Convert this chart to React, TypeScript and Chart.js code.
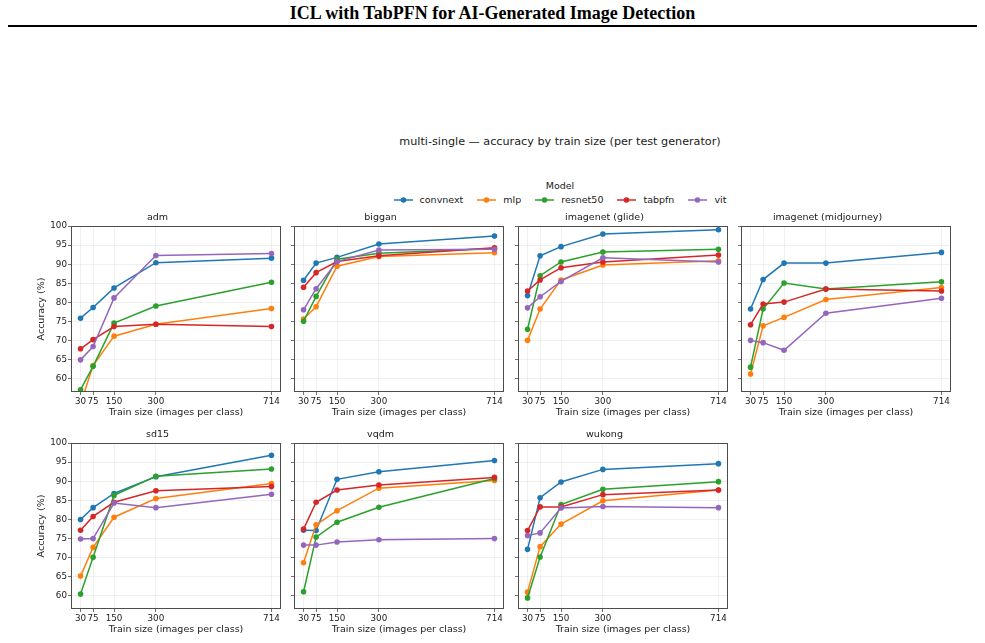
import React, { useEffect, useRef } from "react";
import { Chart, registerables } from "chart.js";

Chart.register(...registerables);

// ---- data -------------------------------------------------------------
const trainSizes = [30, 75, 150, 300, 714];
const models = ["convnext", "mlp", "resnet50", "tabpfn", "vit"];
const modelColors = ["#1f77b4", "#ff7f0e", "#2ca02c", "#d62728", "#9467bd"];
const yTicks = [60, 65, 70, 75, 80, 85, 90, 95, 100];

// accuracy (%) per model (rows in `models` order), columns follow `trainSizes`
const admAcc = [
  [75.9, 78.7, 83.8, 90.4, 91.6],
  [53.5, 63.5, 71.2, 74.3, 78.4],
  [57.2, 63.3, 74.6, 79.1, 85.3],
  [67.9, 70.3, 73.7, 74.3, 73.7],
  [65.0, 68.5, 81.2, 92.3, 92.8],
];
const bigganAcc = [
  [85.8, 90.3, 91.8, 95.3, 97.4],
  [75.7, 78.9, 89.5, 92.0, 93.0],
  [75.1, 81.6, 91.3, 92.9, 94.1],
  [84.0, 87.8, 90.7, 92.2, 94.3],
  [78.1, 83.6, 90.7, 93.7, 93.9],
];
const glideAcc = [
  [81.8, 92.2, 94.6, 97.9, 99.0],
  [70.1, 78.3, 85.9, 89.8, 90.9],
  [73.0, 87.0, 90.6, 93.2, 93.9],
  [83.0, 85.9, 89.1, 90.6, 92.4],
  [78.6, 81.5, 85.5, 91.7, 90.6],
];
const midjourneyAcc = [
  [78.3, 86.0, 90.3, 90.3, 93.1],
  [61.3, 73.9, 76.1, 80.8, 83.9],
  [63.1, 78.3, 85.1, 83.5, 85.4],
  [74.2, 79.6, 80.1, 83.5, 83.0],
  [70.1, 69.5, 67.5, 77.2, 81.1],
];
const sd15Acc = [
  [80.0, 83.1, 86.8, 91.2, 96.8],
  [65.2, 72.7, 80.6, 85.5, 89.4],
  [60.5, 70.1, 86.3, 91.3, 93.2],
  [77.2, 80.8, 84.5, 87.5, 88.6],
  [74.9, 75.0, 84.3, 83.1, 86.6],
];
const vqdmAcc = [
  [77.2, 77.1, 90.5, 92.5, 95.4],
  [68.7, 78.6, 82.3, 88.2, 90.2],
  [61.1, 75.4, 79.3, 83.2, 90.7],
  [77.5, 84.5, 87.7, 89.0, 91.0],
  [73.3, 73.3, 74.1, 74.7, 75.0],
];
const wukongAcc = [
  [72.2, 85.7, 89.8, 93.1, 94.6],
  [61.0, 72.9, 78.8, 84.9, 87.7],
  [59.5, 70.2, 83.9, 87.9, 89.9],
  [77.1, 83.3, 83.3, 86.5, 87.7],
  [75.8, 76.5, 83.0, 83.4, 83.1],
];

const generators = [
  "adm",
  "biggan",
  "imagenet (glide)",
  "imagenet (midjourney)",
  "sd15",
  "vqdm",
  "wukong",
];
const generatorAcc = [admAcc, bigganAcc, glideAcc, midjourneyAcc, sd15Acc, vqdmAcc, wukongAcc];

// ---- layout -----------------------------------------------------------
const FONT = "'DejaVu Sans', sans-serif";
const LABEL_SIZE = 9.5;
const TICK_SIZE = 8.75;
const TEXT = "#1a1a1a";
const SPINE = "#4d4d4d";
const GRID = "rgba(0,0,0,0.08)";

const COL_LEFT = [71, 294, 518, 741];
const ROW_TOP = [226, 443];
const FRAME_W = 210;
const FRAME_H = 166;
const AXIS_W = 37;
const TITLE_H = 16;
const XAXIS_H = 28;
const PAD_R = 4;

const framePlugin = {
  id: "frame",
  afterDatasetsDraw(chart: any) {
    const { ctx, chartArea: a } = chart;
    ctx.save();
    ctx.strokeStyle = SPINE;
    ctx.lineWidth = 1;
    ctx.strokeRect(
      Math.round(a.left) + 0.5,
      Math.round(a.top) + 0.5,
      Math.round(a.width) - 1,
      Math.round(a.height) - 1
    );
    ctx.restore();
  },
};

type PanelProps = {
  title: string;
  rows: number[][];
  left: number;
  top: number;
  first: boolean;
};

function Panel({ title, rows, left, top, first }: PanelProps) {
  const ref = useRef<HTMLCanvasElement>(null);
  const cw = AXIS_W + FRAME_W + PAD_R;
  const ch = TITLE_H + FRAME_H + XAXIS_H;

  useEffect(() => {
    if (!ref.current) return;
    const labelFont = { family: FONT, size: LABEL_SIZE };
    const tickFont = { family: FONT, size: TICK_SIZE };
    const chart = new Chart(ref.current, {
      type: "line",
      data: {
        datasets: models.map((m, i) => ({
          label: m,
          data: trainSizes.map((x, j) => ({ x, y: rows[i][j] })),
          borderColor: modelColors[i],
          backgroundColor: modelColors[i],
          pointBackgroundColor: modelColors[i],
          pointBorderWidth: 0,
          pointRadius: 2.8,
          borderWidth: 1.5,
          tension: 0,
          order: models.length - i,
        })),
      },
      options: {
        animation: false,
        responsive: false,
        devicePixelRatio: 1,
        layout: { padding: { left: 0, right: PAD_R, top: 0, bottom: 0 } },
        plugins: {
          legend: { display: false },
          tooltip: { enabled: false },
          title: {
            display: true,
            text: title,
            color: TEXT,
            font: { family: FONT, size: LABEL_SIZE, weight: "normal", lineHeight: "12px" },
            padding: { top: 2, bottom: 2 },
          },
        },
        scales: {
          x: {
            type: "linear",
            min: -4.2,
            max: 748.2,
            afterBuildTicks: (s: any) => {
              s.ticks = trainSizes.map((v) => ({ value: v }));
            },
            afterFit: (s: any) => {
              s.height = XAXIS_H;
            },
            ticks: {
              autoSkip: false,
              maxRotation: 0,
              minRotation: 0,
              padding: 1,
              color: TEXT,
              font: tickFont,
              callback: (v: any) => String(v),
            },
            grid: {
              color: GRID,
              lineWidth: 0.8,
              tickColor: SPINE,
              tickLength: 3,
              tickWidth: 0.8,
            },
            border: { display: false },
            title: {
              display: true,
              text: "Train size (images per class)",
              color: TEXT,
              font: labelFont,
              padding: { top: 1.5, bottom: 1.5 },
            },
          },
          y: {
            type: "linear",
            min: 56.6,
            max: 100,
            afterBuildTicks: (s: any) => {
              s.ticks = yTicks.map((v) => ({ value: v }));
            },
            afterFit: (s: any) => {
              s.width = AXIS_W;
            },
            ticks: {
              display: first,
              padding: 1,
              color: TEXT,
              font: tickFont,
            },
            grid: {
              color: GRID,
              lineWidth: 0.8,
              tickColor: SPINE,
              tickLength: 3,
              tickWidth: 0.8,
            },
            border: { display: false },
            title: {
              display: first,
              text: "Accuracy (%)",
              color: TEXT,
              font: labelFont,
              padding: { top: 2, bottom: 2 },
            },
          },
        },
      },
      plugins: [framePlugin],
    } as any);
    return () => chart.destroy();
  }, [title, rows, first]);

  return (
    <canvas
      ref={ref}
      width={cw}
      height={ch}
      style={{
        position: "absolute",
        left: left - AXIS_W,
        top: top - TITLE_H,
        width: cw,
        height: ch,
      }}
    />
  );
}

function LegendEntry({ name, color }: { name: string; color: string }) {
  return (
    <div style={{ display: "flex", alignItems: "center", gap: 7 }}>
      <svg width={19} height={8} style={{ display: "block" }}>
        <line x1={0} y1={4} x2={19} y2={4} stroke={color} strokeWidth={1.5} />
        <circle cx={9.5} cy={4} r={2.8} fill={color} />
      </svg>
      <span>{name}</span>
    </div>
  );
}

export default function App() {
  return (
    <div
      style={{
        position: "absolute",
        left: 0,
        top: 0,
        width: 985,
        height: 643,
        background: "#fff",
        overflow: "hidden",
      }}
    >
      <div
        style={{
          position: "absolute",
          left: 8,
          width: 969,
          top: 3,
          textAlign: "center",
          font: "bold 18px 'Liberation Serif', 'Times New Roman', serif",
          lineHeight: "20px",
          color: "#000",
        }}
      >
        ICL with TabPFN for AI-Generated Image Detection
      </div>
      <div
        style={{
          position: "absolute",
          left: 8,
          width: 969,
          top: 25,
          height: 2,
          background: "#000",
        }}
      />

      <div
        style={{
          position: "absolute",
          left: 260,
          width: 600,
          top: 134.5,
          textAlign: "center",
          fontFamily: FONT,
          fontSize: 11.2,
          lineHeight: "14px",
          color: TEXT,
        }}
      >
        multi-single — accuracy by train size (per test generator)
      </div>

      <div
        style={{
          position: "absolute",
          left: 360,
          width: 400,
          top: 180,
          textAlign: "center",
          fontFamily: FONT,
          fontSize: LABEL_SIZE,
          lineHeight: "12px",
          color: TEXT,
        }}
      >
        Model
      </div>
      <div
        style={{
          position: "absolute",
          left: 310,
          width: 500,
          top: 193.5,
          display: "flex",
          justifyContent: "center",
          gap: 14,
          fontFamily: FONT,
          fontSize: LABEL_SIZE,
          lineHeight: "12px",
          color: TEXT,
        }}
      >
        {models.map((m, i) => (
          <LegendEntry key={m} name={m} color={modelColors[i]} />
        ))}
      </div>

      {generators.map((g, k) => (
        <Panel
          key={g}
          title={g}
          rows={generatorAcc[k]}
          left={COL_LEFT[k % 4]}
          top={ROW_TOP[Math.floor(k / 4)]}
          first={k % 4 === 0}
        />
      ))}
    </div>
  );
}
